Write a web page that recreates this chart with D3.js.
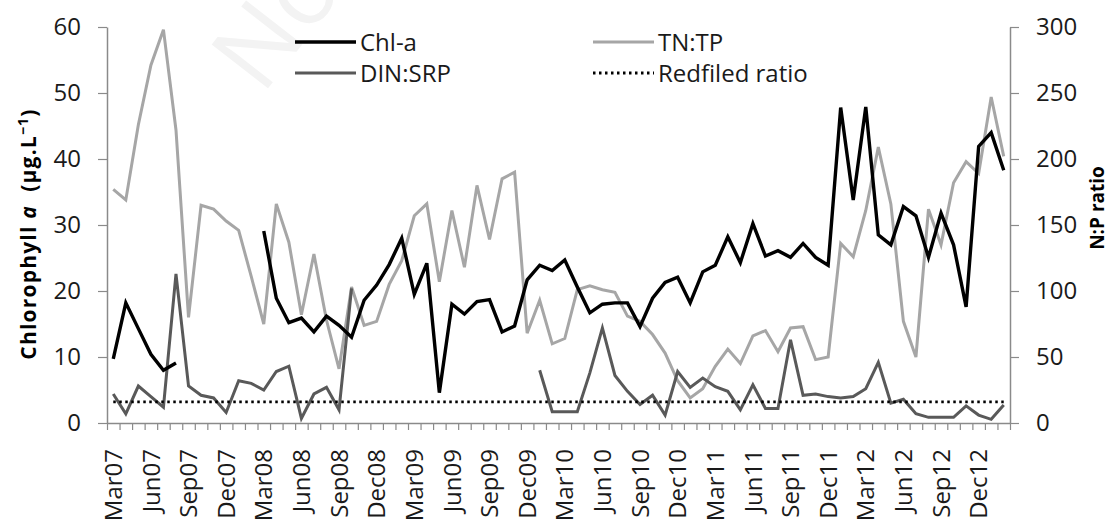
<!DOCTYPE html>
<html>
<head>
<meta charset="utf-8">
<script src="https://cdn.jsdelivr.net/npm/d3@7"></script>
<style>
  body { margin: 0; background: #fff; }
  text { font-family: "Open Sans", sans-serif; }
</style>
</head>
<body>
<div id="chart"></div>
<script>
// one category per month, Mar07 .. Feb13
const months = [
  "Mar07","Apr07","May07","Jun07","Jul07","Aug07","Sep07","Oct07","Nov07","Dec07","Jan08","Feb08",
  "Mar08","Apr08","May08","Jun08","Jul08","Aug08","Sep08","Oct08","Nov08","Dec08","Jan09","Feb09",
  "Mar09","Apr09","May09","Jun09","Jul09","Aug09","Sep09","Oct09","Nov09","Dec09","Jan10","Feb10",
  "Mar10","Apr10","May10","Jun10","Jul10","Aug10","Sep10","Oct10","Nov10","Dec10","Jan11","Feb11",
  "Mar11","Apr11","May11","Jun11","Jul11","Aug11","Sep11","Oct11","Nov11","Dec11","Jan12","Feb12",
  "Mar12","Apr12","May12","Jun12","Jul12","Aug12","Sep12","Oct12","Nov12","Dec12","Jan13","Feb13"
];
const tickLabels = ["Mar07","Jun07","Sep07","Dec07","Mar08","Jun08","Sep08","Dec08","Mar09","Jun09",
  "Sep09","Dec09","Mar10","Jun10","Sep10","Dec10","Mar11","Jun11","Sep11","Dec11","Mar12","Jun12",
  "Sep12","Dec12"];

// Chl-a, left axis (µg/L)
const chla = [
  9.7, 18.2, 14.3, 10.4, 8.0, 9.1, null, null, null, null, null, null,
  29.1, 18.9, 15.2, 15.9, 13.8, 16.2, 14.8, 13.0, 18.6, 20.9, 24.0, 28.0,
  19.5, 24.2, 4.6, 18.0, 16.5, 18.4, 18.7, 13.8, 14.7, 21.7, 23.9, 23.1,
  24.7, 20.6, 16.7, 18.0, 18.2, 18.2, 14.6, 18.9, 21.3, 22.1, 18.2, 22.9,
  23.9, 28.2, 24.3, 30.2, 25.3, 26.1, 25.1, 27.2, 25.1, 23.9, 47.8, 33.8,
  47.9, 28.5, 27.0, 32.8, 31.4, 25.1, 31.8, 27.0, 17.6, 41.9, 44.0, 38.3
];
// TN:TP, right axis
const tntp = [
  177, 169, 226, 271, 298, 222, 80, 165, 162, 153, 146, 111,
  75, 166, 137, 82, 128, 78, 41, 103, 74, 77, 105, 123,
  157, 166, 107, 161, 118, 180, 139, 185, 190, 68, 93, 60,
  64, 101, 104, 101, 99, 81, 77, 67, 53, 32, 19, 26,
  43, 56, 45, 66, 70, 54, 72, 73, 48, 50, 136, 126,
  161, 209, 166, 77, 50, 162, 135, 182, 198, 189, 247, 202
];
// DIN:SRP, right axis
const dinsrp = [
  22, 7, 28, 20, 12, 113, 28, 21, 19, 8, 32, 30,
  25, 39, 43, 3.5, 22, 27, 10, 102, null, null, null, null,
  null, null, null, null, null, null, null, null, null, null, 40, 8.6,
  8.6, 8.6, 38, 72, 36, 24, 14, 21, 6, 39, 27, 34,
  27.5, 24, 10, 29, 11, 11, 63, 21, 22, 20, 19, 20,
  26, 46, 15, 18, 7, 4.3, 4.3, 4.3, 13, 6, 2.8, 13.6
];
const redfield = months.map(() => 16);

const W = 1110, H = 523;
const plot = {left: 107, right: 1010, top: 27, bottom: 423};
const axisGrey = "#8a8a8a";

const svg = d3.select("#chart").append("svg")
  .attr("width", W).attr("height", H);

// faint watermark in the source scan
svg.append("text")
  .attr("transform", "translate(262,96) rotate(-52)")
  .attr("font-size", 100)
  .attr("fill", "#f3f3f3")
  .text("No");

const x = d3.scaleBand().domain(months).range([plot.left, plot.right]).padding(0);
const xc = m => x(m) + x.bandwidth() / 2;
const xIdx = d3.scaleLinear().domain([0, months.length]).range([plot.left, plot.right]);
const yL = d3.scaleLinear().domain([0, 60]).range([plot.bottom, plot.top]);
const yR = d3.scaleLinear().domain([0, 300]).range([plot.bottom, plot.top]);

// x axis: tick marks at category boundaries
const xAxis = svg.append("g")
  .attr("transform", `translate(0,${plot.bottom})`)
  .call(d3.axisBottom(xIdx).tickValues(d3.range(months.length + 1)).tickFormat("").tickSize(7).tickSizeOuter(0));
xAxis.select(".domain").attr("stroke", axisGrey).attr("stroke-width", 1.5);
xAxis.selectAll(".tick line").attr("stroke", axisGrey).attr("stroke-width", 1.2);

svg.append("g").selectAll("text")
  .data(tickLabels)
  .join("text")
  .attr("transform", d => `translate(${xc(d)},449) rotate(-90)`)
  .attr("text-anchor", "end")
  .attr("dy", "0.36em")
  .attr("font-size", 24)
  .attr("fill", "#1a1a1a")
  .text(d => d);

// y axes
const leftAxis = svg.append("g")
  .attr("transform", `translate(${plot.left},0)`)
  .call(d3.axisLeft(yL).tickValues(d3.range(0, 61, 10)).tickSize(9).tickSizeOuter(0).tickPadding(17));
const rightAxis = svg.append("g")
  .attr("transform", `translate(${plot.right},0)`)
  .call(d3.axisRight(yR).tickValues(d3.range(0, 301, 50)).tickSize(9).tickSizeOuter(0).tickPadding(17));
[leftAxis, rightAxis].forEach(g => {
  g.select(".domain").attr("stroke", axisGrey).attr("stroke-width", 1.5);
  g.selectAll(".tick line").attr("stroke", axisGrey).attr("stroke-width", 1.2);
  g.selectAll(".tick text").attr("font-size", 24).attr("fill", "#1a1a1a")
    .style("font-family", "'Open Sans', sans-serif");
});

// axis titles
const yTitle = svg.append("text")
  .attr("transform", `translate(36,234) rotate(-90)`)
  .attr("text-anchor", "middle")
  .attr("font-size", 21)
  .attr("font-weight", "bold")
  .attr("letter-spacing", 1.2)
  .attr("fill", "#000");
yTitle.append("tspan").text("Chlorophyll ");
yTitle.append("tspan").attr("font-style", "italic").text("a");
yTitle.append("tspan").text("\u00a0\u00a0(\u00b5g.L");
yTitle.append("tspan").attr("dy", -8).attr("font-size", 14).text("\u22121");
yTitle.append("tspan").attr("dy", 8).text(")");

svg.append("text")
  .attr("transform", `translate(1104,208) rotate(-90)`)
  .attr("text-anchor", "middle")
  .attr("font-size", 19)
  .attr("font-weight", "bold")
  .attr("fill", "#000")
  .text("N:P ratio");

// series
const series = [
  {name: "TN:TP", values: tntp, scale: yR, color: "#a6a6a6", width: 3, dash: null},
  {name: "DIN:SRP", values: dinsrp, scale: yR, color: "#595959", width: 3, dash: null},
  {name: "Redfiled ratio", values: redfield, scale: yR, color: "#000", width: 2.8, dash: "2.5,3.5"},
  {name: "Chl-a", values: chla, scale: yL, color: "#000", width: 3.4, dash: null}
];

series.forEach(s => {
  const line = d3.line()
    .defined(d => d != null)
    .x((d, i) => xc(months[i]))
    .y(d => s.scale(d));
  svg.append("path")
    .datum(s.values)
    .attr("fill", "none")
    .attr("stroke", s.color)
    .attr("stroke-width", s.width)
    .attr("stroke-linejoin", "miter")
    .attr("stroke-dasharray", s.dash)
    .attr("d", line);
});

// legend
const legendItems = [
  {name: "Chl-a", x: 295, y: 42, color: "#000", width: 3.4, dash: null},
  {name: "DIN:SRP", x: 295, y: 73, color: "#595959", width: 3, dash: null},
  {name: "TN:TP", x: 593, y: 42, color: "#a6a6a6", width: 3, dash: null},
  {name: "Redfiled ratio", x: 593, y: 73, color: "#000", width: 2.8, dash: "2.5,3.5"}
];
const lg = svg.append("g").selectAll("g").data(legendItems).join("g");
lg.append("line")
  .attr("x1", d => d.x).attr("x2", d => d.x + 61)
  .attr("y1", d => d.y).attr("y2", d => d.y)
  .attr("stroke", d => d.color)
  .attr("stroke-width", d => d.width)
  .attr("stroke-dasharray", d => d.dash);
lg.append("text")
  .attr("x", d => d.x + 65)
  .attr("y", d => d.y)
  .attr("dy", "0.36em")
  .attr("font-size", 24)
  .attr("fill", "#1a1a1a")
  .text(d => d.name);
</script>
</body>
</html>
